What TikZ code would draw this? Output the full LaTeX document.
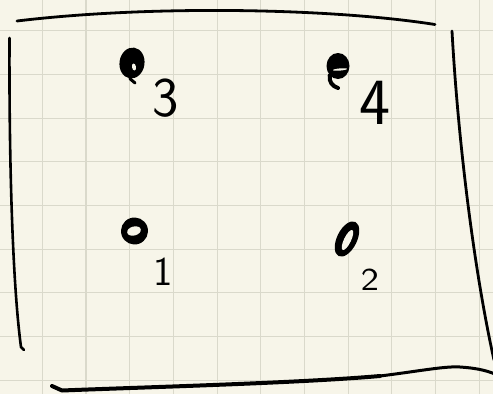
\documentclass[tikz,border=0pt]{standalone}
\usetikzlibrary{shapes.geometric}
\definecolor{paper}{HTML}{F7F5E9}
\definecolor{gridc}{HTML}{DAD9CB}
\begin{document}
\begin{tikzpicture}[x=1pt,y=-1pt,
  gridline/.style={gridc, line width=1.1pt},
  ink/.style={black, line cap=round, line join=round},
  blob/.style={ellipse, fill=black, draw=none, inner sep=0pt},
  hole/.style={ellipse, fill=paper, draw=none, inner sep=0pt},
  lbl/.style={inner sep=0pt, text=black, font=\sffamily}]
\fill[paper] (0,0) rectangle (493,394);
\useasboundingbox (0,0) rectangle (493,394);
\begin{scope}
\clip (0,0) rectangle (493,394);
% grid
\foreach \k in {0,...,10} \draw[gridline] ({42.3+43.7*\k},0) -- ({42.3+43.7*\k},394);
\foreach \k in {0,...,8} \draw[gridline] (0,{30.7+43.7*\k}) -- (493,{30.7+43.7*\k});
% frame strokes
\draw[ink, line width=2.8pt] (17,21) .. controls (150,5) and (330,8) .. (435,24.5);
\draw[ink, line width=2.6pt] (9.5,38) .. controls (9,150) and (12,280) .. (21,347) -- (24,350);
\draw[ink, line width=2.8pt] (452,31) .. controls (458,140) and (474,270) .. (494,360);
\draw[ink, line width=4pt] (52,386) -- (62,390.5) .. controls (150,387) and (300,383) .. (380,376);
\draw[ink, line width=3pt] (380,376) .. controls (420,371) and (445,366) .. (460,367) .. controls (475,368) and (485,370) .. (495,374);
\end{scope}
% point 3
\node[blob, minimum width=25pt, minimum height=31pt, rotate=-8] (p3) at (132,63) {};
\node[hole, minimum width=4pt, minimum height=7pt, rotate=10] (h3) at (134,67) {};
\coordinate (t3) at (135,83);
\draw[ink, line width=3pt] (p3.south) -- (t3);
% point 4
\node[blob, minimum width=23pt, minimum height=26pt] (p4) at (338,66) {};
\node[hole, minimum width=14pt, minimum height=2.2pt, rotate=5] (h4) at (340,69.5) {};
\coordinate (t4) at (338,88);
\draw[ink, line width=4pt] (p4.south west) .. controls (329,82) and (332,86) .. (t4);
% point 1
\node[blob, minimum width=27pt, minimum height=27pt, rotate=20] (p1) at (134.5,231) {};
\node[hole, minimum width=14pt, minimum height=9pt, rotate=15] (h1) at (134,231) {};
% point 2
\node[blob, minimum width=38pt, minimum height=20pt, rotate=64] (p2) at (347,239) {};
\node[hole, minimum width=22pt, minimum height=7pt, rotate=64] (h2) at (347.5,240) {};
% labels
\node[lbl, font=\sffamily\fontsize{56}{56}\selectfont] (l3) at (166,98) {3};
\node[lbl, font=\sffamily\fontsize{66}{66}\selectfont] (l4) at (375,103) {4};
\node[lbl, font=\sffamily\fontsize{41}{41}\selectfont] (l1) at (163,272) {1};
\node[lbl, font=\sffamily\fontsize{32}{32}\selectfont, xscale=1.2] (l2) at (370,280) {2};
\end{tikzpicture}
\end{document}
